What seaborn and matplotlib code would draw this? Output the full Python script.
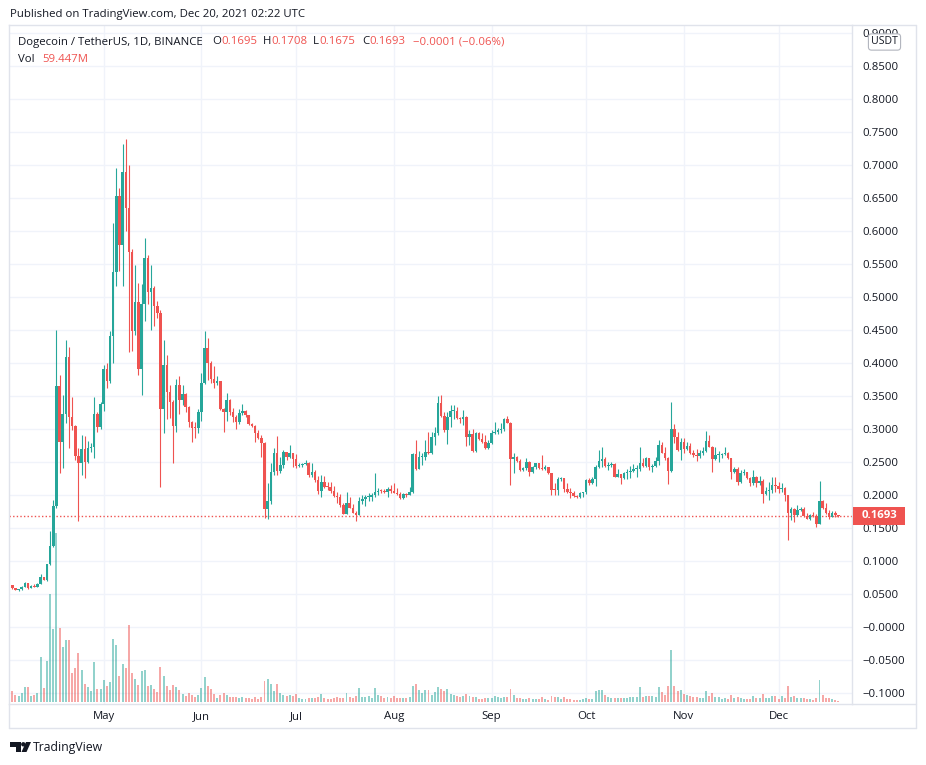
import numpy as np
import pandas as pd
import matplotlib
matplotlib.use("Agg")
import matplotlib.pyplot as plt
import matplotlib.dates as mdates
import matplotlib.transforms as mtransforms
from matplotlib.patches import Rectangle, Polygon, Ellipse
from matplotlib.lines import Line2D
import seaborn as sns

# ---------------- data ----------------
start_date = "2021-04-02"
first_open = 0.0641

close = [
    0.0590, 0.0565, 0.0575, 0.0616, 0.0666, 0.0590, 0.0631, 0.0616, 0.0656, 0.0757,
    0.0717, 0.0959, 0.1232, 0.1838, 0.3656, 0.2813, 0.3232, 0.4096, 0.3182, 0.3055,
    0.2601, 0.2495, 0.2697, 0.2510, 0.2712, 0.2727, 0.3232, 0.3040, 0.3384, 0.3914,
    0.3737, 0.4414, 0.5378, 0.6535, 0.5793, 0.6899, 0.6358, 0.5692, 0.4495, 0.4934,
    0.3914, 0.4899, 0.5591, 0.5080, 0.5146, 0.4873, 0.4757, 0.3303, 0.3974, 0.3570,
    0.3419, 0.3050, 0.3671, 0.3444, 0.3535, 0.3343, 0.3116, 0.3025, 0.3015, 0.3262,
    0.3701, 0.4227, 0.4009, 0.3757, 0.3706, 0.3737, 0.3313, 0.3257, 0.3444, 0.3257,
    0.3191, 0.3111, 0.3242, 0.3272, 0.3217, 0.3075, 0.3055, 0.2939, 0.2863, 0.2787,
    0.1787, 0.1914, 0.2353, 0.2636, 0.2373, 0.2464, 0.2656, 0.2575, 0.2646, 0.2545,
    0.2444, 0.2464, 0.2474, 0.2484, 0.2312, 0.2353, 0.2232, 0.2070, 0.2202, 0.2131,
    0.2121, 0.2070, 0.1989, 0.1979, 0.1853, 0.1717, 0.1889, 0.1813, 0.1737, 0.1707,
    0.1909, 0.1939, 0.1969, 0.1979, 0.2005, 0.2055, 0.2070, 0.2060, 0.2055, 0.2101,
    0.2060, 0.2040, 0.2020, 0.1959, 0.2020, 0.2010, 0.2050, 0.2626, 0.2404, 0.2575,
    0.2585, 0.2656, 0.2636, 0.2878, 0.2939, 0.3404, 0.3202, 0.2989, 0.3192, 0.3277,
    0.3283, 0.3166, 0.3151, 0.3181, 0.2888, 0.2929, 0.2671, 0.2949, 0.2848, 0.2813,
    0.2717, 0.2798, 0.2949, 0.2964, 0.2989, 0.2999, 0.3151, 0.3101, 0.2550, 0.2575,
    0.2525, 0.2383, 0.2409, 0.2510, 0.2358, 0.2424, 0.2484, 0.2409, 0.2394, 0.2424,
    0.2333, 0.2080, 0.2075, 0.2252, 0.2262, 0.2090, 0.2055, 0.2030, 0.1989, 0.1969,
    0.2040, 0.2045, 0.2232, 0.2181, 0.2242, 0.2434, 0.2525, 0.2545, 0.2444, 0.2459,
    0.2474, 0.2282, 0.2323, 0.2257, 0.2343, 0.2358, 0.2368, 0.2393, 0.2400, 0.2495,
    0.2444, 0.2560, 0.2424, 0.2444, 0.2525, 0.2762, 0.2646, 0.2560, 0.2373, 0.3000,
    0.2888, 0.2687, 0.2813, 0.2697, 0.2747, 0.2636, 0.2611, 0.2596, 0.2636, 0.2676,
    0.2828, 0.2737, 0.2550, 0.2611, 0.2616, 0.2626, 0.2646, 0.2560, 0.2358, 0.2393,
    0.2207, 0.2343, 0.2348, 0.2257, 0.2192, 0.2272, 0.2181, 0.2222, 0.2015, 0.2070,
    0.2080, 0.2156, 0.2146, 0.2090, 0.2116, 0.2005, 0.1727, 0.1787, 0.1702, 0.1777,
    0.1792, 0.1687, 0.1646, 0.1702, 0.1687, 0.1565, 0.1914, 0.1813, 0.1737, 0.1676,
    0.1727, 0.1695, 0.1693,
]

high = [
    0.0645, 0.0600, 0.0580, 0.0625, 0.0680, 0.0670, 0.0640, 0.0650, 0.0670, 0.0808,
    0.0760, 0.0965, 0.1459, 0.1929, 0.4505, 0.3823, 0.3520, 0.4353, 0.4252, 0.3495,
    0.3065, 0.2712, 0.2914, 0.2899, 0.2823, 0.2788, 0.3495, 0.3267, 0.3419, 0.3975,
    0.4000, 0.4490, 0.6121, 0.6964, 0.6651, 0.7323, 0.7399, 0.7005, 0.5732, 0.5490,
    0.5222, 0.5202, 0.5899, 0.5641, 0.5490, 0.5171, 0.4949, 0.4808, 0.4353, 0.4126,
    0.3671, 0.3444, 0.3762, 0.3807, 0.3671, 0.3545, 0.3353, 0.3131, 0.3116, 0.3313,
    0.3858, 0.4489, 0.4388, 0.4035, 0.3959, 0.3807, 0.3737, 0.3328, 0.3545, 0.3464,
    0.3318, 0.3217, 0.3313, 0.3378, 0.3292, 0.3217, 0.3090, 0.3065, 0.2989, 0.2914,
    0.2813, 0.2191, 0.2484, 0.2712, 0.2898, 0.2585, 0.2686, 0.2661, 0.2762, 0.2646,
    0.2626, 0.2484, 0.2494, 0.2535, 0.2499, 0.2484, 0.2383, 0.2292, 0.2308, 0.2292,
    0.2202, 0.2207, 0.2141, 0.2055, 0.2020, 0.1889, 0.2055, 0.1969, 0.1868, 0.1767,
    0.1979, 0.2005, 0.2005, 0.2040, 0.2040, 0.2333, 0.2106, 0.2090, 0.2090, 0.2121,
    0.2156, 0.2181, 0.2106, 0.2050, 0.2040, 0.2040, 0.2121, 0.2646, 0.2838, 0.2676,
    0.2636, 0.2838, 0.2964, 0.2964, 0.3040, 0.3505, 0.3520, 0.3267, 0.3267, 0.3368,
    0.3368, 0.3343, 0.3187, 0.3293, 0.3202, 0.2989, 0.2999, 0.2964, 0.2964, 0.2939,
    0.2914, 0.2838, 0.2989, 0.3116, 0.3015, 0.3101, 0.3166, 0.3202, 0.3116, 0.2646,
    0.2595, 0.2545, 0.2434, 0.2560, 0.2525, 0.2444, 0.2494, 0.2494, 0.2611, 0.2459,
    0.2434, 0.2333, 0.2181, 0.2272, 0.2282, 0.2252, 0.2181, 0.2106, 0.2065, 0.2005,
    0.2055, 0.2050, 0.2240, 0.2257, 0.2282, 0.2459, 0.2686, 0.2737, 0.2575, 0.2510,
    0.2510, 0.2490, 0.2393, 0.2323, 0.2358, 0.2393, 0.2444, 0.2474, 0.2459, 0.2737,
    0.2560, 0.2585, 0.2560, 0.2474, 0.2585, 0.2838, 0.2813, 0.2737, 0.2585, 0.3414,
    0.3080, 0.2964, 0.2863, 0.2863, 0.2813, 0.2787, 0.2692, 0.2697, 0.2687, 0.2727,
    0.2979, 0.2914, 0.2747, 0.2727, 0.2676, 0.2646, 0.2727, 0.2661, 0.2560, 0.2434,
    0.2424, 0.2383, 0.2394, 0.2348, 0.2282, 0.2383, 0.2292, 0.2292, 0.2242, 0.2131,
    0.2207, 0.2272, 0.2272, 0.2207, 0.2181, 0.2121, 0.2005, 0.1828, 0.1803, 0.1853,
    0.1828, 0.1828, 0.1737, 0.1717, 0.1752, 0.1717, 0.2217, 0.1929, 0.1878, 0.1777,
    0.1767, 0.1767, 0.1708,
]

low = [
    0.0580, 0.0560, 0.0555, 0.0570, 0.0605, 0.0585, 0.0590, 0.0610, 0.0610, 0.0650,
    0.0710, 0.0707, 0.0944, 0.1222, 0.1803, 0.2333, 0.2409, 0.3091, 0.2712, 0.2990,
    0.2535, 0.1616, 0.2303, 0.2257, 0.2485, 0.2661, 0.2570, 0.2964, 0.3000, 0.3282,
    0.3631, 0.3700, 0.4000, 0.5176, 0.5404, 0.5176, 0.6010, 0.4176, 0.4192, 0.4429,
    0.3823, 0.3520, 0.4646, 0.4899, 0.4505, 0.4570, 0.4692, 0.2131, 0.2949, 0.3151,
    0.3166, 0.2494, 0.2964, 0.3232, 0.3368, 0.3267, 0.3040, 0.2813, 0.2873, 0.2949,
    0.3131, 0.3686, 0.3747, 0.3696, 0.3621, 0.3671, 0.3292, 0.2964, 0.3131, 0.3217,
    0.3116, 0.3010, 0.3080, 0.3217, 0.3191, 0.3060, 0.3040, 0.2813, 0.2853, 0.2575,
    0.1651, 0.1641, 0.1868, 0.2307, 0.2307, 0.2333, 0.2408, 0.2535, 0.2560, 0.2434,
    0.2408, 0.2424, 0.2434, 0.2454, 0.2282, 0.2282, 0.2207, 0.2020, 0.1969, 0.2106,
    0.2080, 0.2030, 0.1979, 0.1889, 0.1828, 0.1712, 0.1712, 0.1803, 0.1727, 0.1616,
    0.1702, 0.1868, 0.1838, 0.1919, 0.1919, 0.1969, 0.2005, 0.2030, 0.2030, 0.1979,
    0.2030, 0.2030, 0.2005, 0.1949, 0.1939, 0.1979, 0.2005, 0.2030, 0.2383, 0.2394,
    0.2459, 0.2535, 0.2621, 0.2626, 0.2762, 0.2914, 0.3192, 0.2964, 0.2777, 0.3040,
    0.3150, 0.3151, 0.3090, 0.3065, 0.2747, 0.2762, 0.2661, 0.2661, 0.2838, 0.2787,
    0.2707, 0.2707, 0.2777, 0.2929, 0.2929, 0.2939, 0.2979, 0.3090, 0.2156, 0.2343,
    0.2510, 0.2374, 0.2374, 0.2383, 0.2292, 0.2343, 0.2404, 0.2394, 0.2383, 0.2383,
    0.2323, 0.2005, 0.2005, 0.2005, 0.2222, 0.2055, 0.2030, 0.1954, 0.1969, 0.1959,
    0.1959, 0.1980, 0.2020, 0.2156, 0.2171, 0.2141, 0.2409, 0.2424, 0.2424, 0.2383,
    0.2424, 0.2272, 0.2272, 0.2171, 0.2242, 0.2242, 0.2257, 0.2358, 0.2272, 0.2373,
    0.2434, 0.2434, 0.2383, 0.2358, 0.2424, 0.2459, 0.2636, 0.2535, 0.2171, 0.2358,
    0.2787, 0.2677, 0.2535, 0.2636, 0.2687, 0.2626, 0.2585, 0.2525, 0.2560, 0.2611,
    0.2656, 0.2727, 0.2358, 0.2535, 0.2510, 0.2560, 0.2611, 0.2545, 0.2242, 0.2343,
    0.2156, 0.2191, 0.2308, 0.2242, 0.2141, 0.2156, 0.2131, 0.2156, 0.1878, 0.2005,
    0.1929, 0.2040, 0.2055, 0.2030, 0.2055, 0.1919, 0.1323, 0.1626, 0.1601, 0.1687,
    0.1762, 0.1676, 0.1636, 0.1626, 0.1666, 0.1525, 0.1565, 0.1787, 0.1717, 0.1636,
    0.1666, 0.1676, 0.1675,
]

# daily volume, millions of DOGE
volume_m = [
    660, 420, 360, 540, 900, 900, 360, 420, 540, 2700,
    840, 2460, 6480, 4380, 10140, 4440, 3300, 3720, 3720, 1740,
    2040, 2940, 1920, 1080, 900, 660, 2400, 780, 780, 1320,
    960, 1200, 3780, 3420, 1560, 2280, 2040, 4620, 1740, 1380,
    1020, 1860, 1920, 960, 1020, 780, 600, 2100, 1560, 960,
    720, 1020, 900, 720, 480, 360, 540, 420, 300, 420,
    840, 1500, 960, 780, 480, 240, 420, 540, 420, 300,
    300, 300, 240, 300, 240, 240, 180, 300, 180, 300,
    1260, 1380, 1080, 660, 1080, 540, 420, 360, 420, 360,
    480, 240, 180, 180, 240, 240, 240, 300, 480, 240,
    180, 180, 240, 300, 240, 240, 540, 300, 240, 360,
    840, 300, 300, 360, 240, 840, 420, 360, 240, 300,
    240, 360, 240, 240, 240, 240, 300, 960, 1080, 720,
    540, 720, 720, 420, 600, 900, 780, 660, 780, 480,
    420, 360, 300, 360, 480, 360, 300, 300, 180, 180,
    240, 240, 240, 360, 300, 240, 300, 300, 780, 420,
    240, 240, 180, 180, 240, 180, 180, 180, 300, 180,
    120, 360, 300, 300, 180, 300, 180, 180, 120, 120,
    120, 180, 240, 180, 180, 660, 720, 720, 420, 300,
    240, 240, 240, 240, 240, 240, 300, 300, 300, 900,
    300, 360, 360, 360, 300, 900, 600, 420, 960, 3120,
    960, 660, 720, 480, 420, 360, 300, 300, 240, 240,
    660, 360, 540, 300, 300, 180, 240, 180, 420, 240,
    300, 240, 180, 180, 180, 360, 240, 240, 480, 240,
    240, 360, 360, 180, 360, 240, 960, 300, 360, 240,
    240, 240, 180, 180, 120, 240, 1320, 420, 240, 240,
    180, 120, 59.447,
]

price_ticks = [-0.10, -0.05, 0.00, 0.05, 0.10, 0.15, 0.20, 0.25, 0.30, 0.35, 0.40,
               0.45, 0.50, 0.55, 0.60, 0.65, 0.70, 0.75, 0.80, 0.85, 0.90]
price_tick_labels = ["\u22120.1000", "\u22120.0500", "\u22120.0000", "0.0500", "0.1000",
                     "0.1500", "0.2000", "0.2500", "0.3000", "0.3500", "0.4000", "0.4500",
                     "0.5000", "0.5500", "0.6000", "0.6500", "0.7000", "0.7500", "0.8000",
                     "0.8500", "0.9000"]
month_starts = ["2021-05-01", "2021-06-01", "2021-07-01", "2021-08-01",
                "2021-09-01", "2021-10-01", "2021-11-01", "2021-12-01"]
month_labels = ["May", "Jun", "Jul", "Aug", "Sep", "Oct", "Nov", "Dec"]
last_price = 0.1693

# ---------------- style ----------------
sns.set_theme(style="white")
plt.rcParams["font.family"] = ["Open Sans", "DejaVu Sans"]

UP, DOWN = "#26a69a", "#ef5350"
TXT = "#131722"
GRID = "#f0f3fa"
BORDER = "#e0e3eb"
FS = 8.2

W, H = 926, 765
fig = plt.figure(figsize=(W / 100, H / 100), dpi=100)
fig.patch.set_facecolor("white")


def fx(x):
    return x / W


def fy(y):
    return 1 - y / H


L_, R_, T_, B_ = 9, 852, 25, 704
rect = [fx(L_), fy(B_), fx(R_) - fx(L_), fy(T_) - fy(B_)]
axv = fig.add_axes(rect, zorder=1)
ax = fig.add_axes(rect, zorder=2)
ax.patch.set_visible(False)

n = len(close)
dates = pd.date_range(start_date, periods=n, freq="D")
x = mdates.date2num(dates)
close_a = np.array(close)
open_a = np.array([first_open] + close[:-1])
high_a = np.maximum.reduce([np.array(high), open_a, close_a])
low_a = np.minimum.reduce([np.array(low), open_a, close_a])
up = close_a >= open_a
colors = np.where(up, UP, DOWN)

xlim = (x[0] - 1.03, x[0] + 266.3)
ylim = (-0.1162, 0.9126)
ax.set_xlim(*xlim)
ax.set_ylim(*ylim)

# ---------------- volume (seaborn) ----------------
vol_df = pd.DataFrame({"x": x, "vol": volume_m, "dir": np.where(up, "up", "down")})
sns.barplot(data=vol_df, x="x", y="vol", hue="dir", palette={"up": UP, "down": DOWN},
            native_scale=True, width=0.62, dodge=False, legend=False, alpha=0.5,
            linewidth=0, saturation=1, errorbar=None, ax=axv)
axv.set_xlim(*xlim)
axv.set_ylim(-120, 40620)
axv.axis("off")

# grid lines (behind volume)
ytr = ax.get_yaxis_transform()
for p in price_ticks:
    axv.add_line(Line2D([0, 1], [p, p], transform=ytr, color=GRID, lw=1, zorder=0))
for m in month_starts:
    axv.axvline(mdates.datestr2num(m), color=GRID, lw=1, zorder=0)

# ---------------- candles ----------------
ax.vlines(x, low_a, high_a, colors=colors, linewidth=0.8, zorder=3)
body_bottom = np.minimum(open_a, close_a)
body_h = np.maximum(np.abs(close_a - open_a), 0.0016)
ax.bar(x, body_h, bottom=body_bottom, width=0.8, color=colors, linewidth=0, zorder=4)

ax.axhline(last_price, color=DOWN, lw=1, ls=(0, (1, 1.6)), zorder=2)

# ---------------- axes ----------------
ax.yaxis.tick_right()
ax.set_yticks(price_ticks)
ax.set_yticklabels(price_tick_labels)
ax.set_xticks(mdates.datestr2num(month_starts))
ax.set_xticklabels(month_labels)
ax.tick_params(axis="y", length=0, pad=7.2, labelsize=FS, labelcolor=TXT)
ax.tick_params(axis="x", length=0, pad=5.2, labelsize=FS, labelcolor=TXT)
for ticklab in ax.get_yticklabels():
    ticklab.set_horizontalalignment("left")
ax.grid(False)
for s in ax.spines.values():
    s.set_color(BORDER)
    s.set_linewidth(1)
ax.set_xlabel("")
ax.set_ylabel("")

# outer frame of the widget
for (x1, y1, x2, y2) in [(R_, T_, 916, T_), (916, T_, 916, 728), (L_, 728, 916, 728),
                         (L_, B_, L_, 728), (R_, B_, 916, B_)]:
    fig.add_artist(Line2D([fx(x1), fx(x2)], [fy(y1), fy(y2)], color=BORDER, lw=1,
                          transform=fig.transFigure))

# current price label on the price scale
blend = mtransforms.blended_transform_factory(fig.transFigure, ax.transData)
box_h = 18 / 660
fig.add_artist(Rectangle((fx(852.5), last_price - box_h / 2), fx(905) - fx(852.5), box_h,
                         transform=blend, facecolor=DOWN, edgecolor="none", zorder=10))
fig.text(fx(862), 0, "0.1693", transform=blend, color="white", fontsize=FS,
         fontweight="bold", ha="left", va="center", zorder=11).set_y(last_price)

# USDT box
fig.text(fx(884.5), fy(42), "USDT", color=TXT, fontsize=7.6, ha="center", va="center",
         zorder=12,
         bbox=dict(boxstyle="round,pad=0.25,rounding_size=0.3", fc="white", ec="#b2b5be",
                   lw=0.8))

# ---------------- header texts ----------------
fig.canvas.draw()
renderer = fig.canvas.get_renderer()


def row(x0, y, pieces, size=FS):
    xx = x0
    for s, c in pieces:
        t = fig.text(fx(xx), fy(y), s, color=c, fontsize=size, ha="left", va="center")
        xx += t.get_window_extent(renderer).width


row(10, 14.5, [("Published on TradingView.com, Dec 20, 2021 02:22 UTC", TXT)])
row(18, 42, [("Dogecoin / TetherUS, 1D, BINANCE", TXT)])
row(212, 42, [("O", TXT), ("0.1695", DOWN)])
row(263, 42, [("H", TXT), ("0.1708", DOWN)])
row(313, 42, [("L", TXT), ("0.1675", DOWN)])
row(362, 42, [("C", TXT), ("0.1693", DOWN)])
row(413, 42, [("\u22120.0001 (\u22120.06%)", DOWN)])
row(18, 60, [("Vol", TXT)])
row(42, 60, [("59.447M", DOWN)])

# TradingView logo
logo_c = TXT
fig.add_artist(Polygon([(fx(10), fy(742)), (fx(20.5), fy(742)), (fx(20.5), fy(752)),
                        (fx(15.5), fy(752)), (fx(15.5), fy(746.5)), (fx(10), fy(746.5))],
                       closed=True, transform=fig.transFigure, fc=logo_c, ec="none"))
fig.add_artist(Ellipse((fx(23.3), fy(744.3)), 4.4 / W, 4.4 / H, transform=fig.transFigure,
                       fc=logo_c, ec="none"))
fig.add_artist(Polygon([(fx(26), fy(742)), (fx(31), fy(742)), (fx(26.5), fy(752)),
                        (fx(21.5), fy(752))], closed=True, transform=fig.transFigure,
                       fc=logo_c, ec="none"))
fig.text(fx(33), fy(747), "TradingView", color=TXT, fontsize=8.8, ha="left", va="center")

fig.savefig("out.png", dpi=100, facecolor="white")
